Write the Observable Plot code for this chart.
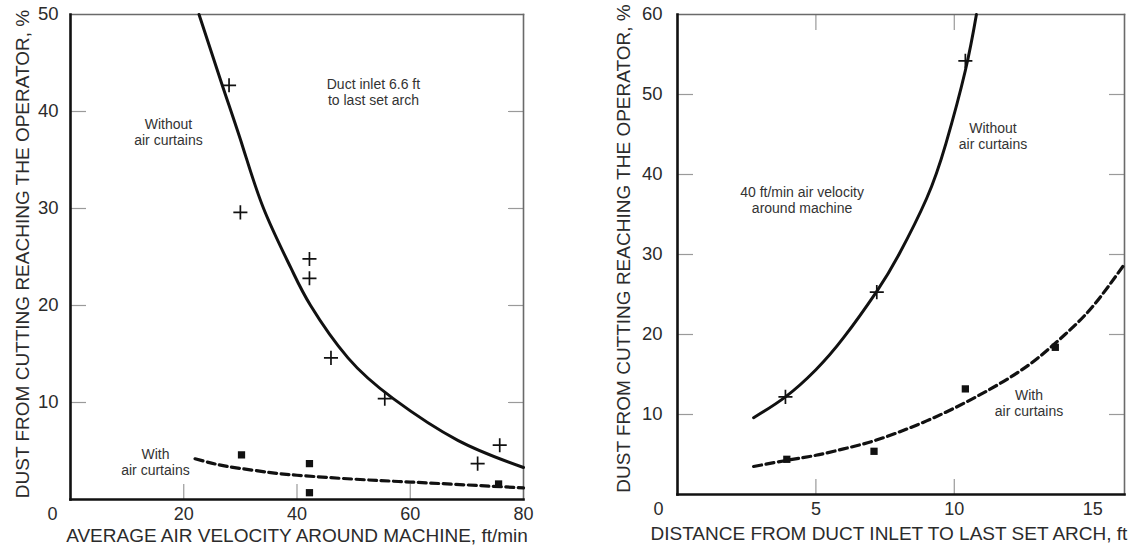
<!DOCTYPE html>
<html><head><meta charset="utf-8">
<script src="https://cdn.jsdelivr.net/npm/d3@7"></script>
<script src="https://cdn.jsdelivr.net/npm/@observablehq/plot@0.6"></script>
<style>
body{margin:0;background:#fff;}
#wrap{position:relative;width:1135px;height:550px;overflow:hidden;background:#fff;}
#wrap svg{position:absolute;top:0;}
</style></head><body><div id="wrap"></div>
<script>
// ---------- Panel A: dust vs average air velocity (duct inlet 6.6 ft) ----------
const velocityWithout = [28, 30, 42.2, 42.2, 46, 55.5, 71.9, 75.8];
const dustWithoutA    = [42.7, 29.6, 24.8, 22.8, 14.6, 10.4, 3.7, 5.6];
const velocityWith    = [30.2, 42.2, 42.2, 75.6];
const dustWithA       = [4.6, 3.7, 0.7, 1.6];
const fitWithoutVel   = [22.7, 26.8, 30.4, 34.1, 38.9, 42.4, 49, 57, 68.4, 80];
const fitWithoutDustA = [50, 42.7, 36.4, 30, 23.9, 20, 14.6, 10.4, 6.1, 3.3];
const fitWithVel      = [22, 26, 30, 35, 40, 50, 60, 70, 80];
const fitWithDustA    = [4.2, 3.6, 3.2, 2.8, 2.5, 2.1, 1.8, 1.5, 1.2];
const xTicksA = [20, 40, 60, 80];
const yTicksA = [10, 20, 30, 40, 50];
const innerXTicksA = [20, 40, 60];
const innerYTicksA = [10, 20, 30, 40];
const notesA = [
  {x: 17.3, y: 37.9, text: "Without\nair curtains"},
  {x: 53.5, y: 42.0, text: "Duct inlet 6.6 ft\nto last set arch"},
  {x: 15.0, y: 3.9,  text: "With\nair curtains"}
];

// ---------- Panel B: dust vs distance from duct inlet (40 ft/min) ----------
const distWithout     = [3.9, 7.2, 10.4];
const dustWithoutB    = [12.2, 25.3, 54.2];
const distWith        = [3.95, 7.1, 10.4, 13.65];
const dustWithB       = [4.4, 5.4, 13.2, 18.4];
const fitWithoutDist  = [2.75, 3.9, 5, 6, 7.2, 8, 9, 9.7, 10.4, 10.8];
const fitWithoutDustB = [9.6, 12.2, 15.6, 19.6, 25.4, 30, 37, 43.9, 53, 60];
const fitWithDist     = [2.75, 4, 5, 6, 7, 8, 9, 10, 11, 12, 13, 14, 15, 16.15];
const fitWithDustB    = [3.5, 4.3, 4.9, 5.7, 6.6, 7.8, 9.2, 10.8, 12.6, 14.6, 17, 20, 23.5, 28.8];
const xTicksB = [5, 10, 15];
const yTicksB = [10, 20, 30, 40, 50, 60];
const innerXTicksB = [5, 10];
const innerYTicksB = [10, 20, 30, 40, 50];
const notesB = [
  {x: 4.5,  y: 36.8, text: "40 ft/min air velocity\naround machine"},
  {x: 11.4, y: 44.8, text: "Without\nair curtains"},
  {x: 12.7, y: 11.5, text: "With\nair curtains"}
];

const yTitle = "DUST FROM CUTTING REACHING THE OPERATOR, %";
const xTitleA = "AVERAGE AIR VELOCITY AROUND MACHINE, ft/min";
const xTitleB = "DISTANCE FROM DUCT INLET TO LAST SET ARCH, ft";
const originLabel = [0];

const zip = (xs, ys) => xs.map((x, i) => ({x, y: ys[i]}));

const FONT = "'Liberation Sans', Arial, Helvetica, sans-serif";
const INK = "#111";
const TXT = "#2b2b2b";
const style = {fontFamily: FONT, fontSize: "19px", color: TXT, background: "transparent", overflow: "visible"};

function panel(o) {
  return Plot.plot({
    width: o.width, height: 550,
    marginLeft: o.ml, marginRight: o.mr, marginTop: o.mt, marginBottom: o.mb,
    x: {domain: o.xDomain},
    y: {domain: o.yDomain},
    style,
    marks: [
      // inner tick marks
      Plot.axisX(o.innerX, {anchor: "bottom", tickSize: -15, fill: "none", stroke: "#9a9a9a", strokeWidth: 1.2, label: null}),
      Plot.axisX(o.innerTop, {anchor: "top", tickSize: -15, fill: "none", stroke: "#9a9a9a", strokeWidth: 1.2, label: null}),
      Plot.axisY(o.innerY, {anchor: "left", tickSize: -16, fill: "none", stroke: "#9a9a9a", strokeWidth: 1.2, label: null}),
      Plot.axisY(o.innerY, {anchor: "right", tickSize: -16, fill: "none", stroke: "#9a9a9a", strokeWidth: 1.2, label: null}),
      // tick labels
      Plot.axisX(o.xTicks, {anchor: "bottom", tickSize: 0, tickPadding: 8, fill: TXT, label: null, fontSize: 18}),
      Plot.axisX(originLabel, {anchor: "bottom", tickSize: 0, tickPadding: 8, fill: TXT, label: null, dx: o.originDx, fontSize: 18}),
      Plot.axisY(o.yTicks, {anchor: "left", tickSize: 0, tickPadding: o.yPad, fill: TXT, label: null, fontSize: 18.5}),
      // frame
      Plot.frame({anchor: "top", stroke: "#6a6a6a", strokeWidth: 1.6}),
      Plot.frame({anchor: "right", stroke: "#6a6a6a", strokeWidth: 1.6}),
      Plot.frame({anchor: "left", stroke: INK, strokeWidth: 2.6}),
      Plot.frame({anchor: "bottom", stroke: INK, strokeWidth: 2.6}),
      // curves
      Plot.line(o.fitWithout, {x: "x", y: "y", curve: "natural", stroke: INK, strokeWidth: 3}),
      Plot.line(o.fitWith, {x: "x", y: "y", curve: "natural", stroke: INK, strokeWidth: 3.2, strokeDasharray: "8,4.5"}),
      // points
      Plot.dot(o.ptsWithout, {x: "x", y: "y", symbol: "plus", r: 4.6, stroke: INK, strokeWidth: 1.7}),
      Plot.dot(o.ptsWith, {x: "x", y: "y", symbol: "square", r: 4.1, fill: INK, stroke: null}),
      // annotations
      Plot.text(o.notes, {x: "x", y: "y", text: "text", fontSize: 14, lineHeight: 1.15, fill: "#333"}),
      // axis titles
      Plot.text([o.xTitle], {frameAnchor: o.xTitleAnchor, textAnchor: o.xTitleTA, dx: o.xTitleDx, dy: o.xTitleDy, fontSize: 19, fill: TXT}),
      Plot.text([yTitle], {frameAnchor: "left", textAnchor: "middle", rotate: -90, dx: o.yTitleDx, dy: o.yTitleDy, fontSize: 19, fill: TXT})
    ]
  });
}

const wrap = document.getElementById("wrap");

const a = panel({
  width: 560, ml: 70, mr: 37, mt: 14, mb: 51,
  xDomain: [0, 80], yDomain: [0, 50],
  innerX: innerXTicksA, innerTop: [], innerY: innerYTicksA,
  xTicks: xTicksA, yTicks: yTicksA, yPad: 12, originDx: -18,
  fitWithout: zip(fitWithoutVel, fitWithoutDustA),
  fitWith: zip(fitWithVel, fitWithDustA),
  ptsWithout: zip(velocityWithout, dustWithoutA),
  ptsWith: zip(velocityWith, dustWithA),
  notes: notesA,
  xTitle: xTitleA, xTitleAnchor: "bottom", xTitleTA: "middle", xTitleDx: 0, xTitleDy: 42,
  yTitleDx: -48, yTitleDy: -3
});
a.style.left = "0px";
wrap.appendChild(a);

const b = panel({
  width: 555, ml: 97, mr: 11, mt: 14, mb: 56,
  xDomain: [0, 16.15], yDomain: [0, 60],
  innerX: innerXTicksB, innerTop: innerXTicksB, innerY: innerYTicksB,
  xTicks: xTicksB, yTicks: yTicksB, yPad: 15, originDx: -19,
  fitWithout: zip(fitWithoutDist, fitWithoutDustB),
  fitWith: zip(fitWithDist, fitWithDustB),
  ptsWithout: zip(distWithout, dustWithoutB),
  ptsWith: zip(distWith, dustWithB),
  notes: notesB,
  xTitle: xTitleB, xTitleAnchor: "bottom-left", xTitleTA: "start", xTitleDx: -27, xTitleDy: 45,
  yTitleDx: -54, yTitleDy: -6
});
b.style.left = "580px";
wrap.appendChild(b);
</script>
</body></html>
